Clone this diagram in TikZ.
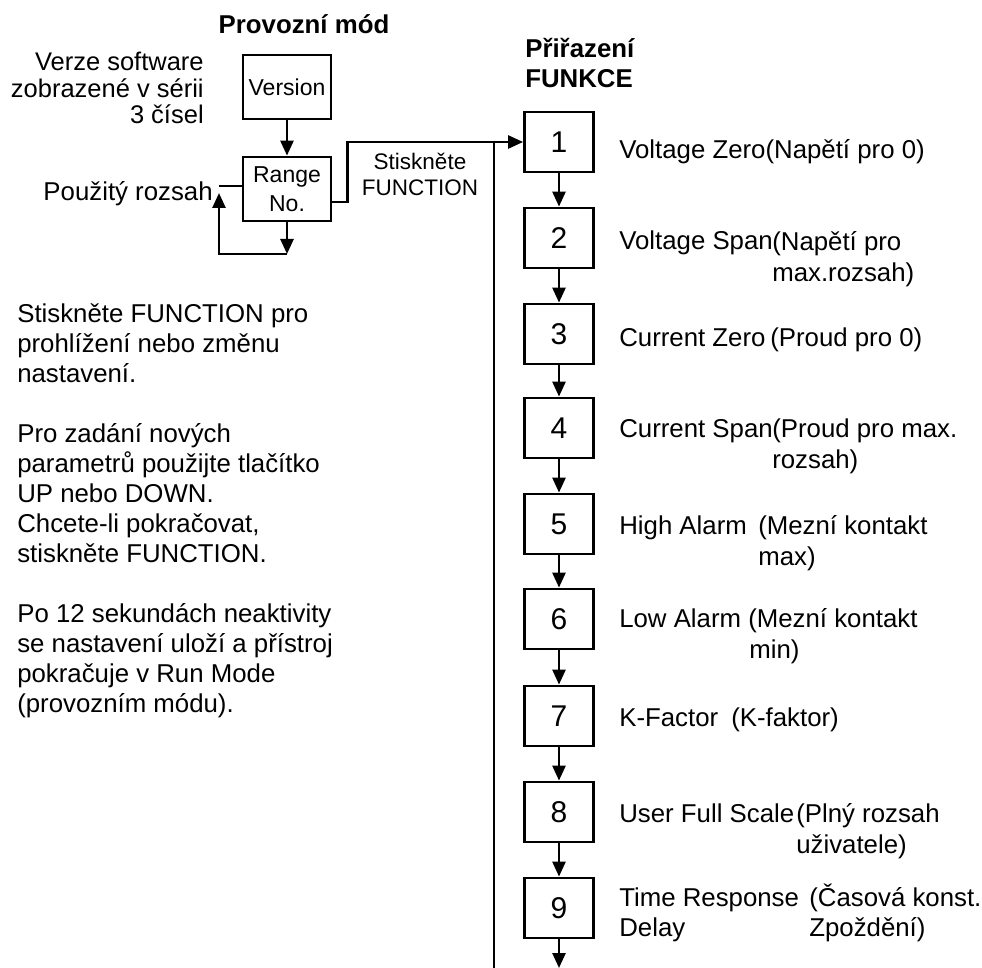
\documentclass[tikz,border=0pt]{standalone}
\usepackage{fontspec}
\setmainfont{Liberation Sans}
\usetikzlibrary{arrows.meta}

\begin{document}
\begin{tikzpicture}[x=1pt,y=-1pt,line width=2.6pt,
    arr/.style={-{Triangle[length=15pt,width=13pt]}},
    modebox/.style={draw,line width=2.8pt,minimum width=88pt,minimum height=64pt,inner sep=0pt,align=center,font=\fontsize{23}{29}\selectfont},
    funcbox/.style={draw,line width=2.8pt,minimum width=69pt,minimum height=60pt,inner sep=0pt,font=\fontsize{30}{30}\selectfont},
    txt/.style={inner sep=0pt,align=left,anchor=base west,font=\fontsize{25.8}{31}\selectfont},
    title/.style={inner sep=0pt,font=\bfseries\fontsize{25.8}{30}\selectfont}]
      \useasboundingbox (0,0) rectangle (982,968);

      \node[title,anchor=base] (modetitle) at (304,34) {Provozní mód};
      \node[title,align=left,anchor=base west] (functitle) at (524,88) {Přiřazení\\FUNKCE};

      \node[modebox] (ver) at (287,87) {Version};
      \node[modebox] (rng) at (287,189) {Range\\No.};
      \node[txt,align=right,anchor=base east,font=\fontsize{25.5}{26.5}\selectfont] (verlbl) at (205,124) {Verze software\\zobrazené v sérii\\3 čísel};
      \node[txt,anchor=base east] (rnglbl) at (214,201) {Použitý rozsah};
      \node[inner sep=0pt,align=center,anchor=base,font=\fontsize{22.5}{26}\selectfont] (presslbl) at (420,196) {Stiskněte\\FUNCTION};

      \node[txt,font=\fontsize{25.8}{30}\selectfont] (helptxt) at (16,712) {Stiskněte FUNCTION pro\\prohlížení nebo změnu\\nastavení.\\[30pt]Pro zadání nových\\parametrů použijte tlačítko\\UP nebo DOWN.\\Chcete-li pokračovat,\\stiskněte FUNCTION.\\[30pt]Po 12 sekundách neaktivity\\se nastavení uloží a přístroj\\pokračuje v Run Mode\\(provozním módu).};

      \node[funcbox] (f1) at (559,142) {1};
      \node[funcbox] (f2) at (559,238) {2};
      \node[funcbox] (f3) at (559,334) {3};
      \node[funcbox] (f4) at (559,428) {4};
      \node[funcbox] (f5) at (559,524) {5};
      \node[funcbox] (f6) at (559,619) {6};
      \node[funcbox] (f7) at (559,716) {7};
      \node[funcbox] (f8) at (559,812) {8};
      \node[funcbox] (f9) at (559,908) {9};

      \node[txt] (en1) at (618,159) {Voltage Zero(Napětí pro 0)};
      \node[txt] (en2) at (618,250) {Voltage Span};
      \node[txt] (cz2) at (771,281) {(Napětí pro\\max.rozsah)};
      \node[txt] (en3) at (618,346) {Current Zero};
      \node[txt] (cz3) at (769,346) {(Proud pro 0)};
      \node[txt] (en4) at (618,437) {Current Span};
      \node[txt] (cz4) at (771,468) {(Proud pro max.\\rozsah)};
      \node[txt] (en5) at (618,534) {High Alarm};
      \node[txt] (cz5) at (757,565) {(Mezní kontakt\\max)};
      \node[txt] (en6) at (618,627) {Low Alarm};
      \node[txt] (cz6) at (747,658) {(Mezní kontakt\\\hspace*{1pt}min)};
      \node[txt] (en7) at (618,726) {K-Factor};
      \node[txt] (cz7) at (730,726) {(K-faktor)};
      \node[txt] (en8) at (618,822) {User Full Scale};
      \node[txt] (cz8) at (795,853) {(Plný rozsah\\uživatele)};
      \node[txt,font=\fontsize{25.8}{30}\selectfont] (en9) at (618,936) {Time Response\\Delay};
      \node[txt,font=\fontsize{25.8}{30}\selectfont] (cz9) at (808,936) {(Časová konst.\\Zpoždění)};

      \coordinate (loopbot) at (287,254);
      \coordinate (loopleft) at (219,186);
      \coordinate (retbot) at (494,968);

      \draw[arr] (ver) -- (rng);
      \draw[arr] (rng) -- (rng.south |- loopbot);
      \draw[arr] (loopbot) -| ([yshift=-7pt]loopleft);
      \draw (loopleft) -- (loopleft -| rng.west);
      \draw[arr] ([yshift=-13pt]rng.east) -- ++(15,0) |- (f1);
      \draw (retbot) -- (retbot |- f1);

      \draw[arr] (f1) -- (f2);
      \draw[arr] (f2) -- (f3);
      \draw[arr] (f3) -- (f4);
      \draw[arr] (f4) -- (f5);
      \draw[arr] (f5) -- (f6);
      \draw[arr] (f6) -- (f7);
      \draw[arr] (f7) -- (f8);
      \draw[arr] (f8) -- (f9);
      \draw[arr] (f9) -- (f9 |- retbot);
   \end{tikzpicture}
\end{document}
